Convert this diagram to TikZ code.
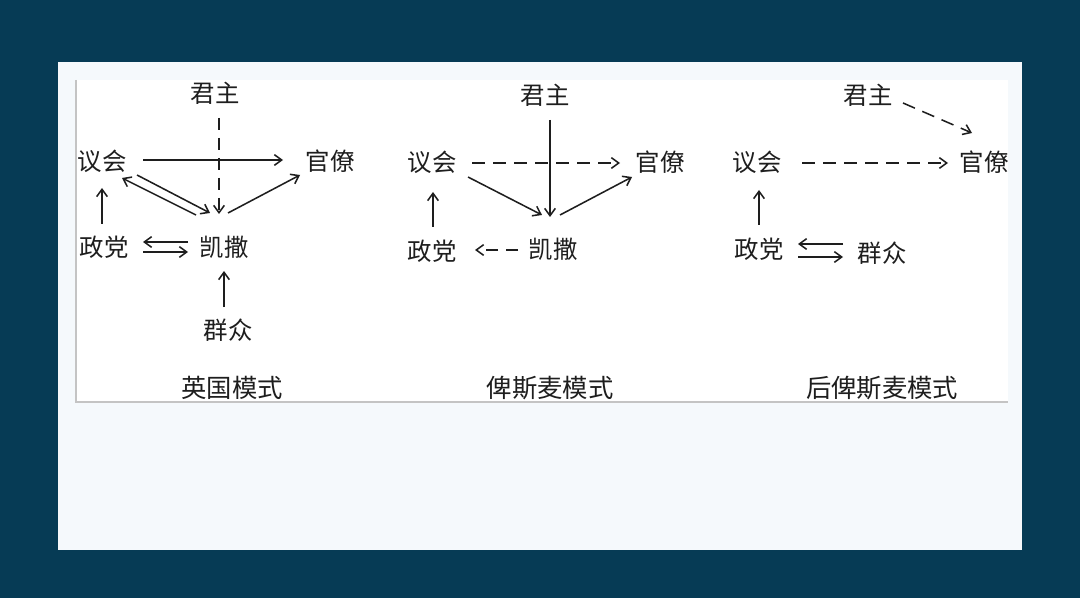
\documentclass[tikz,border=0pt]{standalone}
\usepackage{fontspec}
\setmainfont{Noto Sans CJK SC}
\usetikzlibrary{arrows.meta,calc}
\definecolor{bgdark}{HTML}{063B55}
\definecolor{panel}{HTML}{F5F9FC}
\definecolor{rule}{HTML}{C4C4C4}
\definecolor{ink}{HTML}{1E1E1E}
\tikzset{
  lbl/.style={inner sep=0pt, text=ink, font=\fontsize{18.3pt}{21pt}\selectfont},
  ttl/.style={inner sep=0pt, text=ink, font=\fontsize{19pt}{22pt}\selectfont},
  arr/.style={draw=ink, line width=1.15pt, -{Straight Barb[length=5.5pt,width=8pt]}},
  darr/.style={arr, dash pattern=on 9.75pt off 6pt},
}
\begin{document}
\begin{tikzpicture}[x=0.75pt,y=-0.75pt]
\useasboundingbox (0,0) rectangle (1080,598);
\fill[bgdark] (0,0) rectangle (1080,598);
\fill[panel] (58,62) rectangle (1022,550);
\fill[white] (76,80) rectangle (1008,402);
\draw[rule, line width=1.5pt] (76,80) -- (76,402) -- (1008,402);

% ---------- panel 1 ----------
\node[lbl] (jz1) at (215,93) {君主};
\node[lbl] (yh1) at (102,161) {议会};
\node[lbl] (gl1) at (330,161) {官僚};
\node[lbl] (zd1) at (104,247) {政党};
\node[lbl] (ks1) at (224,247) {凯撒};
\node[lbl] (qz1) at (228,330) {群众};
\node[ttl] (t1) at (232,388) {英国模式};

\draw[arr] ($(yh1)+(41,-1)$) -- ($(gl1)+(-47,-1)$);
\draw[arr, dash pattern=on 9pt off 6pt] ($(jz1)+(4,25)$) -- ($(ks1)+(-5,-33)$);
\draw[arr] ($(yh1)+(35,14)$) -- ($(ks1)+(-14,-34)$);
\draw[arr] ($(ks1)+(-28,-32)$) -- ($(yh1)+(20,17)$);
\draw[arr] ($(ks1)+(4,-34)$) -- ($(gl1)+(-30,14)$);
\draw[arr] ($(zd1)+(-2,-23)$) -- ($(yh1)+(0,27)$);
\draw[arr] ($(ks1)+(-36,-5)$) -- ($(zd1)+(39,-5)$);
\draw[arr] ($(zd1)+(39,5)$) -- ($(ks1)+(-36,5)$);
\draw[arr] ($(qz1)+(-4,-23)$) -- ($(ks1)+(0,24)$);

% ---------- panel 2 ----------
\node[lbl] (jz2) at (545,95) {君主};
\node[lbl] (yh2) at (432,162) {议会};
\node[lbl] (gl2) at (660,162) {官僚};
\node[lbl] (zd2) at (432,251) {政党};
\node[lbl] (ks2) at (553,249) {凯撒};
\node[ttl] (t2) at (550,388) {俾斯麦模式};

\draw[darr] ($(yh2)+(40,1)$) -- ($(gl2)+(-40,1)$);
\draw[arr] ($(jz2)+(5,25)$) -- ($(ks2)+(-3,-32)$);
\draw[arr] ($(yh2)+(36,15)$) -- ($(ks2)+(-11,-34)$);
\draw[arr] ($(ks2)+(7,-34)$) -- ($(gl2)+(-28,15)$);
\draw[darr, dash pattern=on 9pt off 6pt] ($(ks2)+(-35,1)$) -- ($(zd2)+(43,-1)$);
\draw[arr] ($(zd2)+(1,-24)$) -- ($(yh2)+(1,30)$);

% ---------- panel 3 ----------
\node[lbl] (jz3) at (868,95) {君主};
\node[lbl] (yh3) at (757,162) {议会};
\node[lbl] (gl3) at (984,162) {官僚};
\node[lbl] (zd3) at (759,249) {政党};
\node[lbl] (qz3) at (882,253) {群众};
\node[ttl] (t3) at (882,388) {后俾斯麦模式};

\draw[darr] ($(jz3)+(35,8)$) -- ($(gl3)+(-12,-29)$);
\draw[darr] ($(yh3)+(45,1)$) -- ($(gl3)+(-36,1)$);
\draw[arr] ($(zd3)+(0,-24)$) -- ($(yh3)+(2,28)$);
\draw[arr] ($(qz3)+(-39,-9)$) -- ($(zd3)+(39,-5)$);
\draw[arr] ($(zd3)+(39,8)$) -- ($(qz3)+(-39,4)$);
\end{tikzpicture}
\end{document}
